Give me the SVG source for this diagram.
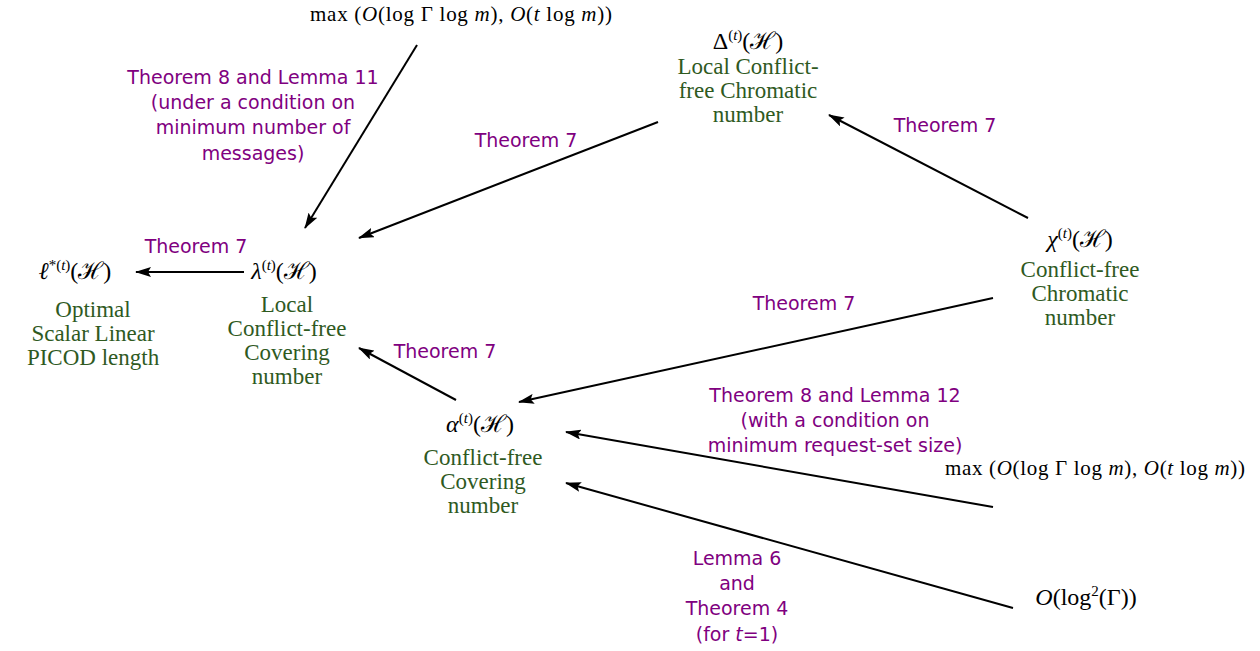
<svg xmlns="http://www.w3.org/2000/svg" width="1260" height="651" viewBox="0 0 1260 651">
<defs>
<marker id="ah" viewBox="0 0 16 10" refX="15" refY="5" markerWidth="16" markerHeight="10" markerUnits="userSpaceOnUse" orient="auto">
<path d="M0,0 L16,5 L0,10 L3,5 z" fill="#000"/>
</marker>
<style>
.m{font-family:"Liberation Serif","DejaVu Serif",serif;font-size:21px;fill:#000;text-anchor:middle}
.n{font-size:24px}
.s{font-size:15px}
.i{font-style:italic}
.g{font-family:"Liberation Serif","DejaVu Serif",serif;font-size:23px;fill:#2f5a1f;text-anchor:middle}
.p{font-family:"DejaVu Sans","Liberation Sans",sans-serif;font-size:19px;fill:#800080;text-anchor:middle}
.e{stroke:#000;stroke-width:2;fill:none;marker-end:url(#ah)}
</style>
</defs>
<rect width="1260" height="651" fill="#fff"/>
<g id="connectors">
<line class="e" x1="417" y1="45" x2="305" y2="228"/>
<line class="e" x1="658" y1="122" x2="359" y2="238"/>
<line class="e" x1="244" y1="272" x2="136" y2="272"/>
<line class="e" x1="1028" y1="218" x2="829" y2="115"/>
<line class="e" x1="993" y1="298" x2="519" y2="402"/>
<line class="e" x1="456" y1="400" x2="359" y2="348"/>
<line class="e" x1="993" y1="507" x2="566" y2="432"/>
<line class="e" x1="1013" y1="608" x2="566" y2="483"/>
<g id="edge-labels">
<text class="p"><tspan x="253" y="84">Theorem 8 and Lemma 11</tspan><tspan x="253" y="109">(under a condition on</tspan><tspan x="253" y="134">minimum number of</tspan><tspan x="253" y="160">messages)</tspan></text>
<text class="p" x="526" y="147">Theorem 7</text>
<text class="p" x="945" y="132">Theorem 7</text>
<text class="p" x="196" y="253">Theorem 7</text>
<text class="p" x="804" y="310">Theorem 7</text>
<text class="p" x="445" y="358">Theorem 7</text>
<text class="p"><tspan x="835" y="402">Theorem 8 and Lemma 12</tspan><tspan x="835" y="427">(with a condition on</tspan><tspan x="835" y="452">minimum request-set size)</tspan></text>
<text class="p"><tspan x="737" y="565">Lemma 6</tspan><tspan x="737" y="590">and</tspan><tspan x="737" y="615">Theorem 4</tspan><tspan x="737" y="641">(for <tspan class="i">t</tspan>=1)</tspan></text>
</g>
</g>
<g id="max-top">
<text class="m" x="461" y="21" textLength="302" lengthAdjust="spacing">max (<tspan class="i">O</tspan>(log Γ log <tspan class="i">m</tspan>), <tspan class="i">O</tspan>(<tspan class="i">t</tspan> log <tspan class="i">m</tspan>))</text>
</g>
<g id="delta">
<text class="m n" x="748" y="49">Δ<tspan class="s" dy="-9">(<tspan class="i">t</tspan>)</tspan><tspan dy="9">(ℋ)</tspan></text>
<text class="g"><tspan x="748" y="74">Local Conflict-</tspan><tspan x="748" y="98">free Chromatic</tspan><tspan x="748" y="122">number</tspan></text>
</g>
<g id="ell">
<text class="m n" x="75" y="279"><tspan class="i">ℓ</tspan><tspan class="s" dy="-9">*(<tspan class="i">t</tspan>)</tspan><tspan dy="9">(ℋ)</tspan></text>
<text class="g"><tspan x="93" y="317">Optimal</tspan><tspan x="93" y="341">Scalar Linear</tspan><tspan x="93" y="365">PICOD length</tspan></text>
</g>
<g id="lambda">
<text class="m n" x="284" y="279"><tspan class="i">λ</tspan><tspan class="s" dy="-9">(<tspan class="i">t</tspan>)</tspan><tspan dy="9">(ℋ)</tspan></text>
<text class="g"><tspan x="287" y="312">Local</tspan><tspan x="287" y="336">Conflict-free</tspan><tspan x="287" y="360">Covering</tspan><tspan x="287" y="384">number</tspan></text>
</g>
<g id="chi">
<text class="m n" x="1080" y="247"><tspan class="i">χ</tspan><tspan class="s" dy="-9">(<tspan class="i">t</tspan>)</tspan><tspan dy="9">(ℋ)</tspan></text>
<text class="g"><tspan x="1080" y="277">Conflict-free</tspan><tspan x="1080" y="301">Chromatic</tspan><tspan x="1080" y="325">number</tspan></text>
</g>
<g id="alpha">
<text class="m n" x="480" y="432"><tspan class="i">α</tspan><tspan class="s" dy="-9">(<tspan class="i">t</tspan>)</tspan><tspan dy="9">(ℋ)</tspan></text>
<text class="g"><tspan x="483" y="465">Conflict-free</tspan><tspan x="483" y="489">Covering</tspan><tspan x="483" y="513">number</tspan></text>
</g>
<g id="max-right">
<text class="m" x="1095" y="475" textLength="300" lengthAdjust="spacing">max (<tspan class="i">O</tspan>(log Γ log <tspan class="i">m</tspan>), <tspan class="i">O</tspan>(<tspan class="i">t</tspan> log <tspan class="i">m</tspan>))</text>
</g>
<g id="log2">
<text class="m n" x="1086" y="605"><tspan class="i">O</tspan>(log<tspan class="s" dy="-9">2</tspan><tspan dy="9">(Γ))</tspan></text>
</g>
</svg>
